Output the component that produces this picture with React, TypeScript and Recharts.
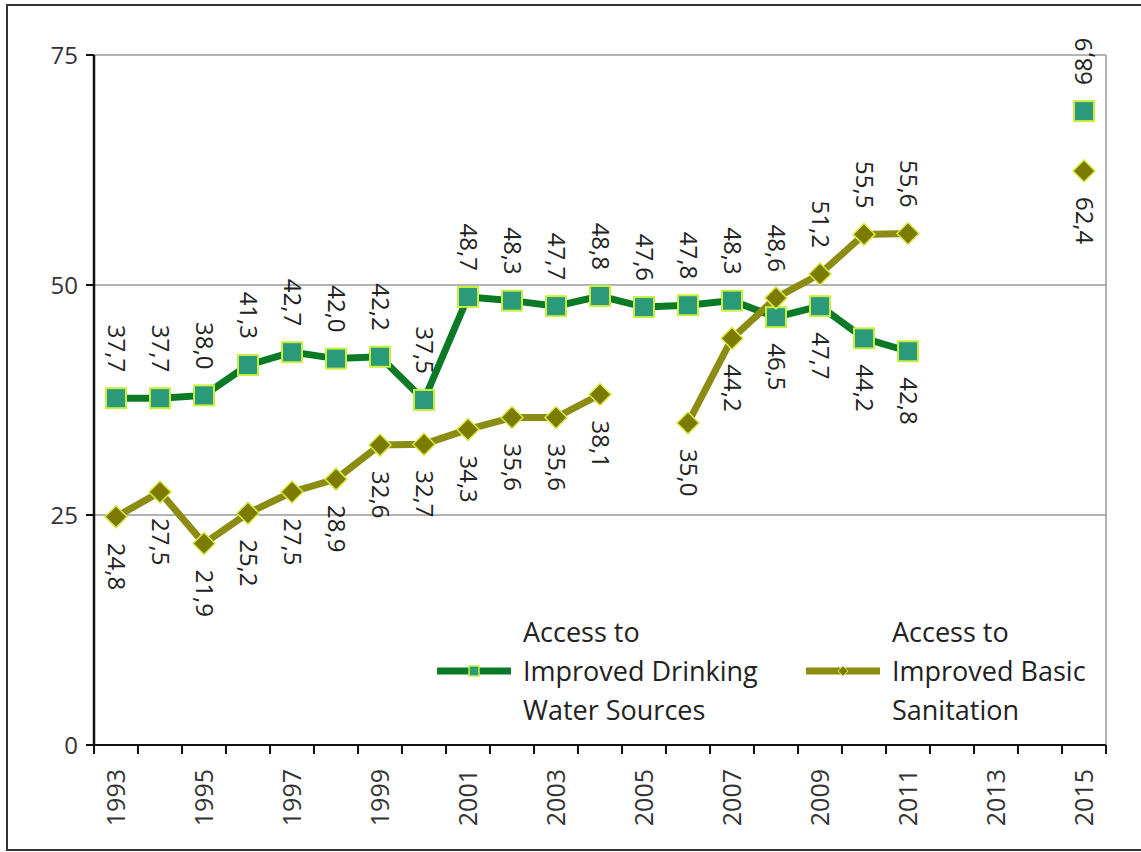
import React from 'react';
import {
  CartesianGrid,
  LabelList,
  Legend,
  Line,
  LineChart,
  ReferenceLine,
  XAxis,
  YAxis,
} from 'recharts';

const years = [
  1993, 1994, 1995, 1996, 1997, 1998, 1999, 2000, 2001, 2002, 2003, 2004,
  2005, 2006, 2007, 2008, 2009, 2010, 2011, 2012, 2013, 2014, 2015,
];

const water = [
  37.7, 37.7, 38.0, 41.3, 42.7, 42.0, 42.2, 37.5, 48.7, 48.3, 47.7, 48.8,
  47.6, 47.8, 48.3, 46.5, 47.7, 44.2, 42.8, null, null, null, 68.9,
];

const sanitation = [
  24.8, 27.5, 21.9, 25.2, 27.5, 28.9, 32.6, 32.7, 34.3, 35.6, 35.6, 38.1,
  null, 35.0, 44.2, 48.6, 51.2, 55.5, 55.6, null, null, null, 62.4,
];

const yTicks = [0, 25, 50, 75];
const yearLabels = [1993, 1995, 1997, 1999, 2001, 2003, 2005, 2007, 2009, 2011, 2013, 2015];
const bandEdges = [
  1992.5, 1993.5, 1994.5, 1995.5, 1996.5, 1997.5, 1998.5, 1999.5, 2000.5, 2001.5,
  2002.5, 2003.5, 2004.5, 2005.5, 2006.5, 2007.5, 2008.5, 2009.5, 2010.5, 2011.5,
  2012.5, 2013.5, 2014.5, 2015.5,
];

const waterName = ['Access to', 'Improved Drinking', 'Water Sources'];
const sanitationName = ['Access to', 'Improved Basic', 'Sanitation'];

const data = years.map((year, i) => ({
  year,
  water: water[i],
  sanitation: sanitation[i],
}));

const FONT = '"Open Sans", "DejaVu Sans", sans-serif';
const WATER_LINE = '#0a7a26';
const WATER_FILL = '#2b9a7a';
const WATER_EDGE = '#c9ef3e';
const SAN_LINE = '#8c8c12';
const SAN_FILL = '#7b7b02';
const SAN_EDGE = '#d8e848';

// which labels sit on the other side of the point
const waterBelow = new Set([2008, 2009, 2010, 2011]);
const sanitationAbove = new Set([2008, 2009, 2010, 2011]);

const fmt = (v: number) => v.toFixed(1).replace('.', ',');

const SquareDot = (props: any) => {
  const { cx, cy } = props;
  if (cx == null || cy == null) return null;
  return (
    <rect x={cx - 10} y={cy - 10} width={20} height={20} fill={WATER_FILL} stroke={WATER_EDGE} strokeWidth={2} />
  );
};

const DiamondDot = (props: any) => {
  const { cx, cy } = props;
  if (cx == null || cy == null) return null;
  const r = 11;
  return (
    <polygon
      points={`${cx},${cy - r} ${cx + r},${cy} ${cx},${cy + r} ${cx - r},${cy}`}
      fill={SAN_FILL}
      stroke={SAN_EDGE}
      strokeWidth={1.5}
    />
  );
};

const makeLabel = (flip: Set<number>, defaultAbove: boolean) => (props: any) => {
  const { x, y, value, index } = props;
  if (value == null || x == null || y == null) return null;
  const year = years[index];
  const above = flip.has(year) ? !defaultAbove : defaultAbove;
  const gap = 26;
  if (year === 2015 && above) {
    return (
      <text
        x={x}
        y={y - gap}
        dy="0.35em"
        textAnchor="start"
        transform={`rotate(-90 ${x} ${y - gap})`}
        fontSize={24}
        fontFamily={FONT}
        fill="#222"
      >
        {fmt(value)}
      </text>
    );
  }
  const ty = above ? y - gap : y + gap;
  return (
    <text
      x={x}
      y={ty}
      dy="0.35em"
      textAnchor={above ? 'end' : 'start'}
      transform={`rotate(90 ${x} ${ty})`}
      fontSize={24}
      fontFamily={FONT}
      fill="#222"
    >
      {fmt(value)}
    </text>
  );
};

const YearTick = (props: any) => {
  const { x, y, payload } = props;
  const v = payload.value;
  if (!Number.isInteger(v)) {
    return <line x1={x} y1={y} x2={x} y2={y + 9} stroke="#111" strokeWidth={2} />;
  }
  const ty = y + 24;
  return (
    <text
      x={x}
      y={ty}
      dy="0.35em"
      textAnchor="end"
      transform={`rotate(-90 ${x} ${ty})`}
      fontSize={25}
      fontFamily={FONT}
      fill="#333"
    >
      {v}
    </text>
  );
};

const LegendContent = () => {
  const items = [
    { name: waterName, line: WATER_LINE, marker: 'square', width: 369 },
    { name: sanitationName, line: SAN_LINE, marker: 'diamond', width: 300 },
  ];
  return (
    <div style={{ display: 'flex', fontFamily: FONT }}>
      {items.map((it) => (
        <div key={it.name.join(' ')} style={{ display: 'flex', alignItems: 'center', width: it.width }}>
          <svg width={74} height={20} style={{ marginRight: 12 }}>
            <line x1={0} y1={10} x2={74} y2={10} stroke={it.line} strokeWidth={7} />
            {it.marker === 'square' ? (
              <rect x={32} y={5} width={10} height={10} fill={WATER_FILL} stroke={WATER_EDGE} strokeWidth={1.5} />
            ) : (
              <polygon points="37,5 42,10 37,15 32,10" fill={SAN_FILL} stroke={SAN_EDGE} strokeWidth={1} />
            )}
          </svg>
          <div style={{ fontSize: 27, lineHeight: '39px', color: '#222', whiteSpace: 'nowrap' }}>
            {it.name.map((l) => (
              <div key={l}>{l}</div>
            ))}
          </div>
        </div>
      ))}
    </div>
  );
};

export default function App() {
  return (
    <div style={{ position: 'absolute', left: 0, top: 0, width: 1141, height: 852, background: '#fff' }}>
      <div
        style={{
          position: 'absolute',
          left: 6,
          top: 4,
          width: 1135,
          height: 847,
          boxSizing: 'border-box',
          borderTop: '2px solid #333',
          borderLeft: '2px solid #333',
          borderBottom: '2px solid #333',
        }}
      />
      <LineChart
        width={1141}
        height={852}
        data={data}
        margin={{ top: 55, right: 35, left: 34, bottom: 47 }}
        style={{ position: 'absolute', left: 0, top: 0 }}
      >
        <CartesianGrid vertical={false} stroke="#9a9a9a" strokeWidth={1.5} />
        <XAxis
          dataKey="year"
          type="number"
          domain={[1992.5, 2015.5]}
          ticks={[...bandEdges, ...yearLabels]}
          interval={0}
          tickLine={false}
          tickSize={0}
          tickMargin={0}
          height={60}
          axisLine={{ stroke: '#111', strokeWidth: 2 }}
          tick={<YearTick />}
        />
        <YAxis
          domain={[0, 75]}
          ticks={yTicks}
          width={60}
          tickSize={8}
          tickMargin={8}
          axisLine={{ stroke: '#111', strokeWidth: 2.5 }}
          tickLine={{ stroke: '#111', strokeWidth: 2 }}
          tick={{ fontSize: 24, fontFamily: FONT, fill: '#333' }}
        />
        <ReferenceLine x={2015.5} stroke="#9a9a9a" strokeWidth={1.5} />
        <Legend
          layout="horizontal"
          verticalAlign="middle"
          align="center"
          wrapperStyle={{ position: 'absolute', left: 437, top: 612, width: 'auto' }}
          content={<LegendContent />}
        />
        <Line
          dataKey="water"
          stroke={WATER_LINE}
          strokeWidth={7}
          dot={<SquareDot />}
          activeDot={false}
          isAnimationActive={false}
        >
          <LabelList dataKey="water" content={makeLabel(waterBelow, true)} />
        </Line>
        <Line
          dataKey="sanitation"
          stroke={SAN_LINE}
          strokeWidth={7}
          dot={<DiamondDot />}
          activeDot={false}
          isAnimationActive={false}
        >
          <LabelList dataKey="sanitation" content={makeLabel(sanitationAbove, false)} />
        </Line>
      </LineChart>
    </div>
  );
}
